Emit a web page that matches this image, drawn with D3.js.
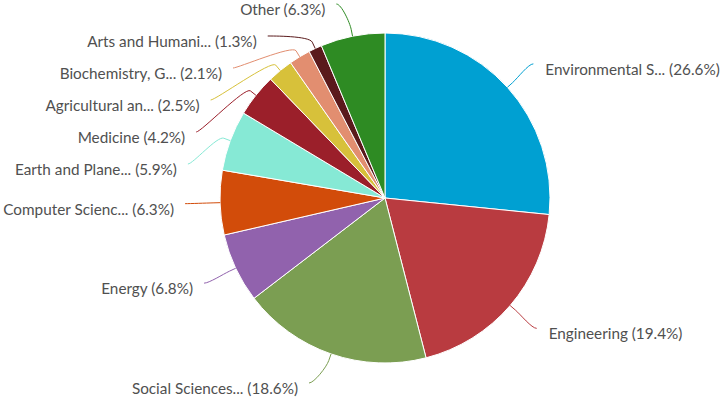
<!DOCTYPE html>
<html>
<head>
<meta charset="utf-8">
<script src="https://cdn.jsdelivr.net/npm/d3@7"></script>
<style>
  body { margin: 0; background: #fff; }
  #chart text { font-family: Lato, "Open Sans", sans-serif; font-size: 15.3px; fill: #505050; }
</style>
</head>
<body>
<div id="chart"></div>
<script>
// Data
const labels = [
  "Environmental S...", "Engineering", "Social Sciences...", "Energy",
  "Computer Scienc...", "Earth and Plane...", "Medicine", "Agricultural an...",
  "Biochemistry, G...", "Arts and Humani...", "Other"
];
const shares = [26.6, 19.4, 18.6, 6.8, 6.3, 5.9, 4.2, 2.5, 2.1, 1.3, 6.3];
const colors = [
  "#00a0d2", "#b93b40", "#7b9e52", "#9162ad", "#d24c0a", "#86e9d5",
  "#9b1f2a", "#d7c13a", "#e28e70", "#5a1a1c", "#2e8b23"
];

const W = 724, H = 399;
const cx = 385, cy = 198, r = 165;
const labelR = 200;      // label circle radius
const spacing = 32;      // min vertical gap between labels

const svg = d3.select("#chart").append("svg")
  .attr("width", W).attr("height", H);

const dataset = labels.map((name, i) => ({ name, value: shares[i], color: colors[i] }));

const pie = d3.pie().sort(null).value(d => d.value);
const arcs = pie(dataset);
const arc = d3.arc().innerRadius(0).outerRadius(r);

const g = svg.append("g").attr("transform", `translate(${cx},${cy})`);

g.selectAll("path.slice")
  .data(arcs)
  .enter()
  .append("path")
  .attr("class", "slice")
  .attr("d", arc)
  .attr("fill", d => d.data.color)
  .attr("stroke", "#fff")
  .attr("stroke-width", 1);

// Label positions
const polar = (rad, a) => ({ x: rad * Math.sin(a), y: -rad * Math.cos(a) });

arcs.forEach(d => {
  d.mid = (d.startAngle + d.endAngle) / 2;
  d.left = d.mid > Math.PI;
  d.ly = polar(labelR, d.mid).y;
});

// avoid overlap, per side (top to bottom)
[true, false].forEach(side => {
  const list = arcs.filter(d => d.left === side).sort((a, b) => a.ly - b.ly);
  let prev = -cy + 4 - spacing;
  list.forEach(d => {
    d.ly = Math.max(d.ly, prev + spacing);
    prev = d.ly;
  });
  let next = H - cy - 16 + spacing;
  list.slice().reverse().forEach(d => {
    d.ly = Math.min(d.ly, next - spacing);
    next = d.ly;
  });
});

arcs.forEach(d => {
  const dx = Math.sqrt(Math.max(0, labelR * labelR - d.ly * d.ly));
  d.lx = d.left ? -dx : dx;
});

// Connectors
g.selectAll("path.connector")
  .data(arcs)
  .enter()
  .append("path")
  .attr("class", "connector")
  .attr("fill", "none")
  .attr("stroke", d => d.data.color)
  .attr("stroke-width", 1)
  .attr("d", d => {
    const touch = polar(r, d.mid);
    const brk = polar(r + 7, d.mid);
    const p = d3.path();
    p.moveTo(d.lx, d.ly);
    p.bezierCurveTo(d.lx + (d.left ? 5 : -5), d.ly,
      2 * brk.x - touch.x, 2 * brk.y - touch.y, brk.x, brk.y);
    p.lineTo(touch.x, touch.y);
    return p.toString();
  });

// Labels
g.selectAll("text.label")
  .data(arcs)
  .enter()
  .append("text")
  .attr("class", "label")
  .attr("x", d => d.lx + (d.left ? -11 : 12))
  .attr("y", d => d.ly + 5.5)
  .attr("dy", "0.35em")
  .attr("text-anchor", d => d.left ? "end" : "start")
  .text(d => `${d.data.name} (${d3.format(".1f")(d.data.value)}%)`);
</script>
</body>
</html>
